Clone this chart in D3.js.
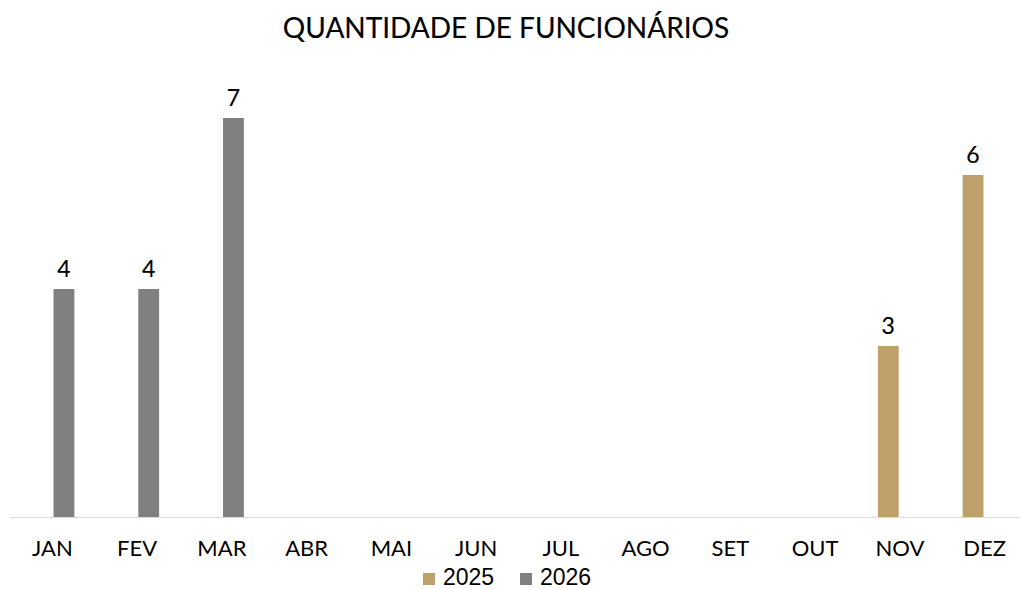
<!DOCTYPE html>
<html><head><meta charset="utf-8">
<script src="https://cdn.jsdelivr.net/npm/d3@7"></script>
<style>body{margin:0;background:#fff}svg{display:block}</style>
</head><body>
<svg id="c" width="1020" height="589"></svg>
<script>
const months = ["JAN","FEV","MAR","ABR","MAI","JUN","JUL","AGO","SET","OUT","NOV","DEZ"];
const seriesNames = ["2025","2026"];
const values2025 = [null,null,null,null,null,null,null,null,null,null,3,6];
const values2026 = [4,4,7,null,null,null,null,null,null,null,null,null];
const colors = ["#BDA06A","#808080"];

const svg = d3.select("#c");
const baseY = 517;
const x = d3.scaleBand().domain(months).range([10, 1027]).padding(0);
const y = d3.scaleLinear().domain([0, 8]).range([baseY, baseY - 8*57]);
const inner = d3.scaleBand().domain(seriesNames).range([-22, 22]).paddingInner(0.1);

svg.append("text").attr("x", 506).attr("y", 38).attr("text-anchor","middle")
  .attr("font-family","Lato").attr("font-size", 28).attr("fill","#000")
  .attr("stroke","#000").attr("stroke-width",0.15)
  .text("QUANTIDADE DE FUNCIONÁRIOS");

svg.append("line").attr("x1",10).attr("x2",1020).attr("y1",baseY+0.5).attr("y2",baseY+0.5)
  .attr("stroke","#d9d9d9").attr("stroke-width",1);

const all = [values2025, values2026];
all.forEach((vals, si) => {
  const data = months.map((m,i)=>({m, v: vals[i]})).filter(d=>d.v!=null);
  const g = svg.append("g");
  g.selectAll("rect").data(data).join("rect")
    .attr("x", d => x(d.m) + x.bandwidth()/2 + inner(seriesNames[si]))
    .attr("width", inner.bandwidth())
    .attr("y", d => y(d.v)).attr("height", d => baseY - y(d.v))
    .attr("fill", colors[si]);
  g.selectAll("text").data(data).join("text")
    .attr("x", d => x(d.m) + x.bandwidth()/2 + inner(seriesNames[si]) + inner.bandwidth()/2)
    .attr("y", d => y(d.v) - 12)
    .attr("text-anchor","middle").attr("font-family","Lato").attr("font-size",23).attr("fill","#000")
    .attr("stroke","#000").attr("stroke-width",0.15)
    .text(d => d.v);
});

const xAxis = d3.axisBottom(x).tickSize(0).tickPadding(0);
const ax = svg.append("g").attr("transform",`translate(0,${baseY})`).call(xAxis);
ax.select(".domain").remove();
ax.selectAll("text").attr("font-family","Lato").attr("font-size",22).attr("fill","#000")
  .attr("dy", null).attr("y", 39);

const leg = svg.append("g");
const legX = [423, 520];
seriesNames.forEach((s,i)=>{
  leg.append("rect").attr("x",legX[i]).attr("y",573).attr("width",12).attr("height",12).attr("fill",colors[i]);
  leg.append("text").attr("x",legX[i]+20).attr("y",585).attr("font-family","Liberation Sans")
    .attr("font-size",23).attr("fill","#000").text(s);
});
</script>
</body></html>
